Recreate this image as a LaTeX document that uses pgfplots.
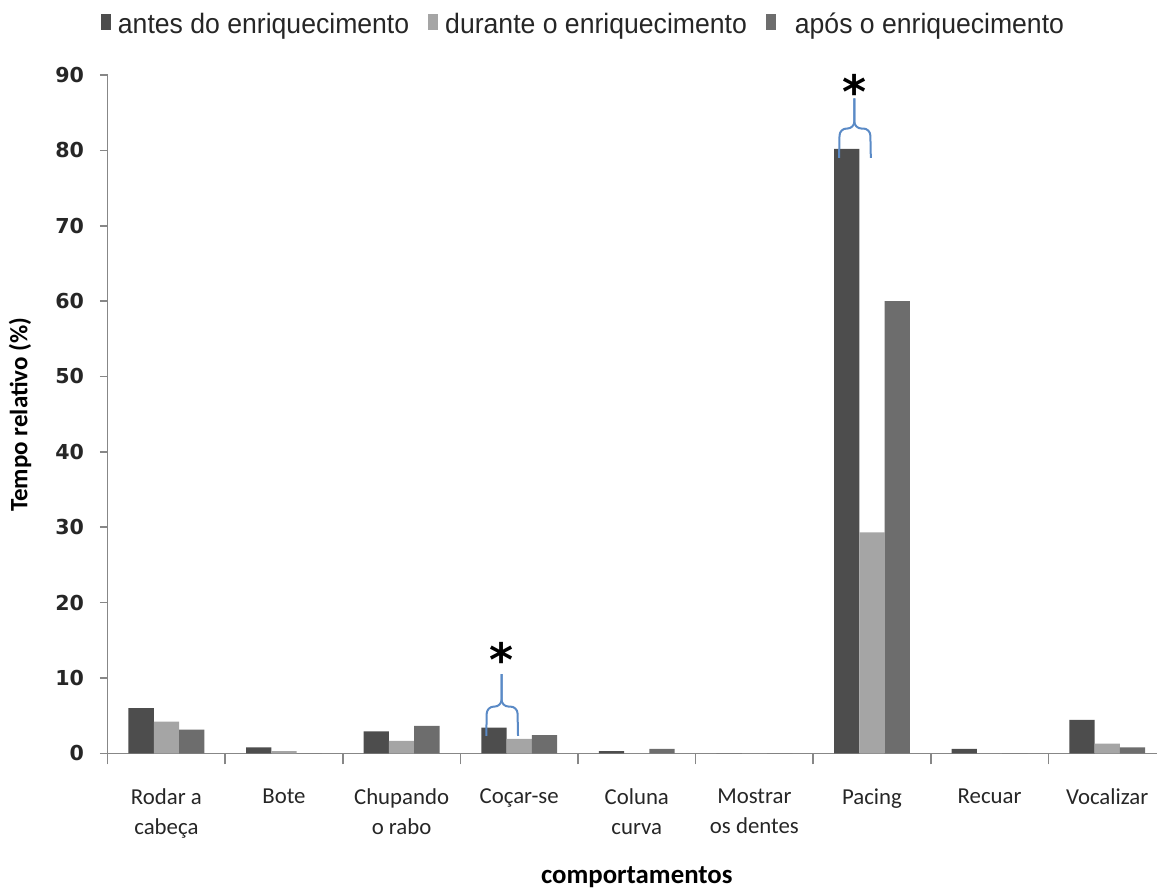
\documentclass[border=0pt]{standalone}
\usepackage{pgfplots}
\pgfplotsset{compat=1.18}
\usepackage{fontspec}
\setmainfont{Carlito}
\newfontfamily\legfont[FakeStretch=0.95]{Liberation Sans}
\newfontfamily\tickfont{DejaVu Sans}
\definecolor{cA}{HTML}{4D4D4D}
\definecolor{cB}{HTML}{A5A5A5}
\definecolor{cC}{HTML}{6D6D6D}
\definecolor{axgray}{HTML}{878787}
\definecolor{braceblue}{HTML}{5A8AC6}
\definecolor{txt}{HTML}{262626}
\begin{document}
\begin{tikzpicture}
\begin{axis}[
  name=ax, scale only axis, width=529.2pt, height=339.15pt,
  xmin=-0.5, xmax=8.5, ymin=0, ymax=90,
  ybar=0pt, bar width=0.215,
  axis x line*=bottom, axis y line*=left,
  axis line style={axgray, line width=0.8pt},
  tick align=outside,
  xtick={0,...,8},
  xticklabels={Rodar a\\cabeça, Bote, Chupando\\o rabo, Coçar-se, Coluna\\curva, Mostrar\\os dentes, Pacing, Recuar, Vocalizar},
  major x tick style={draw=none},
  minor xtick={-0.5,0.5,...,8.5},
  minor tick length=5.5pt,
  minor x tick style={draw=axgray, line width=0.8pt},
  ytick={0,10,...,90},
  major tick length=3.8pt,
  major y tick style={draw=axgray, line width=0.8pt},
  xticklabel style={font=\fontsize{11.4}{15}\selectfont, align=center, text=txt, anchor=north, yshift=-10.5pt},
  yticklabel style={font=\tickfont\bfseries\fontsize{10.3}{12}\selectfont, text=txt, xshift=-4.5pt},
  /pgf/number format/assume math mode=true,
  xlabel={comportamentos},
  xlabel style={at={(rel axis cs:0.5,-0.1829)}, anchor=center, font=\bfseries\fontsize{13.4}{15}\selectfont},
  ylabel={Tempo relativo (\%)},
  ylabel style={at={(rel axis cs:-0.0828,0.499)}, anchor=center, font=\bfseries\fontsize{12.5}{14}\selectfont},
  legend style={at={(0.452,1)}, anchor=center, yshift=25pt, draw=none, fill=none,
    legend columns=3, font=\legfont\fontsize{14}{16}\selectfont, text=txt,
    nodes={inner xsep=3.5pt},
    /tikz/every even column/.append style={column sep=6pt}},
  legend image code/.code={\fill[#1] (0pt,-2.5pt) rectangle (5pt,5.5pt);},
  clip=false,
]
\addplot[fill=cA, draw=none] coordinates {(0,6.0) (1,0.8) (2,2.9) (3,3.4) (4,0.3) (5,0) (6,80.2) (7,0.6) (8,4.45)};
\addplot[fill=cB, draw=none] coordinates {(0,4.2) (1,0.3) (2,1.65) (3,1.9) (4,0) (5,0) (6,29.3) (7,0) (8,1.3)};
\addplot[fill=cC, draw=none] coordinates {(0,3.15) (1,0) (2,3.65) (3,2.4) (4,0.6) (5,0) (6,60) (7,0) (8,0.8)};
\legend{antes do enriquecimento, durante o enriquecimento, \hspace{6pt}após o enriquecimento}
% braces and asterisks
\draw[braceblue, line width=1pt, rounded corners=3.5pt] (axis cs:2.72,2.3) -- (axis cs:2.725,6.2) -- (axis cs:2.85,6.2) -- (axis cs:2.85,10.5);
\draw[braceblue, line width=1pt, rounded corners=3.5pt] (axis cs:2.99,2.3) -- (axis cs:2.985,6.2) -- (axis cs:2.85,6.2) -- (axis cs:2.85,10.5);
\draw[braceblue, line width=1pt, rounded corners=3.5pt] (axis cs:5.72,79.0) -- (axis cs:5.725,82.9) -- (axis cs:5.85,82.9) -- (axis cs:5.85,86.9);
\draw[braceblue, line width=1pt, rounded corners=3.5pt] (axis cs:5.99,79.0) -- (axis cs:5.985,82.9) -- (axis cs:5.85,82.9) -- (axis cs:5.85,86.9);
\node[anchor=base, inner sep=0pt, font=\tickfont\bfseries\fontsize{23}{23}\selectfont] at (axis cs:2.85,10.2) {*};
\node[anchor=base, inner sep=0pt, font=\tickfont\bfseries\fontsize{23}{23}\selectfont] at (axis cs:5.85,85.5) {*};
\end{axis}
\pgfresetboundingbox
\path[use as bounding box] ([xshift=-53.8pt,yshift=-67.85pt]ax.south west) rectangle ([xshift=524.7pt,yshift=37.5pt]ax.north west);
\end{tikzpicture}
\end{document}
